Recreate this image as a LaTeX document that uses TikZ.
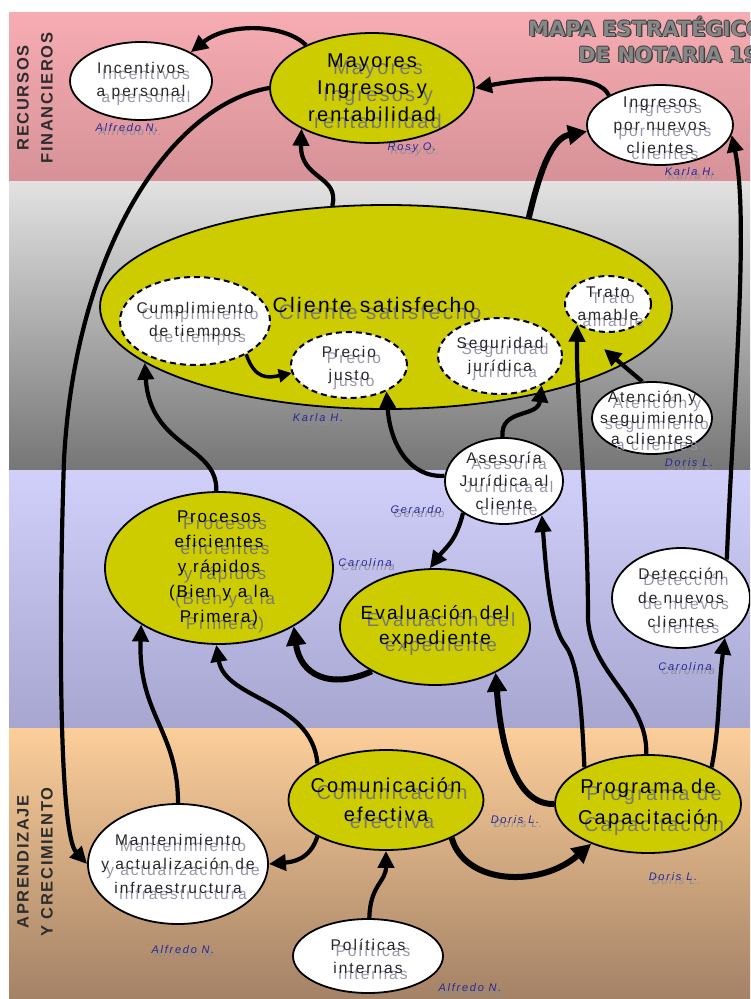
\documentclass[tikz,border=0pt]{standalone}
\usepackage{fontspec}
\setmainfont{Liberation Sans}
\newfontfamily\goalfont[LetterSpace=11]{Liberation Sans}
\newfontfamily\itemfont[LetterSpace=13]{Liberation Sans}
\newfontfamily\ownerfont[LetterSpace=16]{Liberation Sans}
\newfontfamily\bandfont[LetterSpace=10]{Liberation Sans}
\newfontfamily\titlefont{DejaVu Sans}
\usetikzlibrary{arrows.meta,shapes.geometric}

% band colours (top / bottom of each gradient)
\definecolor{pinktop}{RGB}{246,172,178}
\definecolor{pinkbot}{RGB}{214,146,152}
\definecolor{graytop}{RGB}{226,226,226}
\definecolor{graybot}{RGB}{118,118,118}
\definecolor{lavtop}{RGB}{208,208,250}
\definecolor{lavbot}{RGB}{166,166,208}
\definecolor{peachtop}{RGB}{252,206,154}
\definecolor{peachbot}{RGB}{164,130,102}
% bubbles and text
\definecolor{olive}{RGB}{204,204,0}
\definecolor{goalshadow}{RGB}{120,120,112}
\definecolor{itemshadow}{RGB}{150,150,168}
\definecolor{ownerblue}{RGB}{40,40,150}
\definecolor{ownershadow}{RGB}{140,140,150}
\definecolor{titlefill}{RGB}{135,135,135}
\definecolor{titleedge}{RGB}{65,65,65}
\definecolor{bandtext}{RGB}{45,45,45}

\tikzset{
  sz/.style 2 args={minimum width=#1pt, minimum height=#2pt},
  goalbub/.style={ellipse, draw=black, line width=1.8pt, fill=olive, inner sep=0pt},
  itembub/.style={ellipse, draw=black, line width=1.8pt, fill=white, inner sep=0pt},
  subbub/.style={ellipse, draw=black, line width=2pt, dash pattern=on 6pt off 4pt, fill=white, inner sep=0pt},
  g txt/.style={align=center, inner sep=0pt, text=black, font=\goalfont\fontsize{19}{26}\selectfont},
  g sh/.style={xshift=6pt, yshift=-7pt, text=goalshadow},
  i txt/.style={align=center, inner sep=0pt, text=black!85, font=\itemfont\fontsize{15.5}{23}\selectfont},
  i sh/.style={xshift=5pt, yshift=-6pt, text=itemshadow},
  owner txt/.style={inner sep=0pt, text=ownerblue, font=\ownerfont\itshape\fontsize{11}{13}\selectfont},
  owner sh/.style={xshift=3pt, yshift=-4pt, text=ownershadow},
  band txt/.style={align=center, rotate=90, inner sep=0pt, text=bandtext, font=\bandfont\bfseries\fontsize{16.5}{24}\selectfont},
  title txt/.style={anchor=base west, inner sep=0pt, text=titlefill, font=\titlefont\bfseries\fontsize{21}{24}\selectfont},
  link/.style={line width=4.2pt, -{Triangle[length=17pt,width=16pt]}},
  heavy/.style={line width=6pt, -{Triangle[length=19pt,width=19pt]}},
  slim/.style={line width=3.5pt, -{Triangle[length=13pt,width=13pt]}},
}

% bubble: [text options]{shape style}{text kind g/i}{name}{x,y}{size}{text}
\newcommand\bubble[7][]{%
  \node[#2,#6] (#4) at (#5) {};
  \node[#3 txt,#3 sh,#1] (#4-s) at (#4) {#7};
  \node[#3 txt,#1] (#4-t) at (#4) {#7};}
% owner tag with its soft shadow
\newcommand\owner[3]{%
  \node[owner txt,owner sh] (#1-s) at (#2) {#3};
  \node[owner txt] (#1) at (#2) {#3};}
% outlined heading text
\newcommand\outlinetext[3]{%
  \foreach \dx/\dy [count=\k] in {0.9/0,-0.9/0,0/0.9,0/-0.9,1.5/-1.5}
    {\node[title txt, text=titleedge, xshift=\dx pt, yshift=\dy pt] (#1-\k) at (#2) {#3};}
  \node[title txt] (#1) at (#2) {#3};}

\begin{document}
\begin{tikzpicture}[x=1pt, y=-1pt]
\useasboundingbox (0,0) rectangle (750,999);
\fill[white] (0,0) rectangle (750,999);
\clip (0,0) rectangle (750,999);

% perspective bands
\shade[top color=pinktop, bottom color=pinkbot] (9,12) rectangle (750,181);
\shade[top color=graytop, bottom color=graybot] (9,181) rectangle (750,470);
\shade[top color=lavtop, bottom color=lavbot] (9,470) rectangle (750,728);
\shade[top color=peachtop, bottom color=peachbot] (9,728) rectangle (750,999);

% heading
\outlinetext{ttlA}{528,36}{MAPA ESTRATÉGICO}
\outlinetext{ttlB}{578,62}{DE NOTARIA 19}

% band names
\node[band txt] (bandA) at (35,98) {RECURSOS\\FINANCIEROS};
\node[band txt] (bandB) at (35,862) {APRENDIZAJE\\Y CRECIMIENTO};

% financial perspective
\bubble[font=\goalfont\fontsize{20}{27}\selectfont]{goalbub}{g}{may}{372,88}{sz={204}{110}}{Mayores\\Ingresos y\\rentabilidad}
\bubble{itembub}{i}{inc}{141,81}{sz={142}{78}}{Incentivos\\a personal}
\bubble{itembub}{i}{ing}{660,125}{sz={146}{80}}{Ingresos\\por nuevos\\clientes}

% customer perspective
\node[goalbub, sz={572}{204}] (cli) at (386,307) {};
\node[g txt, g sh, font=\goalfont\fontsize{21}{26}\selectfont] (cli-s) at (374,305) {Cliente satisfecho};
\node[g txt, font=\goalfont\fontsize{21}{26}\selectfont] (cli-t) at (374,305) {Cliente satisfecho};
\bubble{subbub}{i}{cum}{195,321}{sz={150}{88}}{Cumplimiento\\de tiempos}
\bubble{subbub}{i}{pre}{349,365}{sz={116}{66}}{Precio\\justo}
\bubble{subbub}{i}{seg}{500,356}{sz={124}{76}}{Seguridad\\jurídica}
\bubble{subbub}{i}{tra}{608,304}{sz={86}{56}}{Trato\\amable}
\bubble[font=\itemfont\fontsize{15.5}{21}\selectfont]{itembub}{i}{ate}{652,418}{sz={120}{72}}{Atención y\\seguimiento\\a clientes}

% internal processes
\bubble{itembub}{i}{ase}{504,481}{sz={118}{86}}{Asesoría\\Jurídica al\\cliente}
\bubble[font=\goalfont\fontsize{17}{25}\selectfont]{goalbub}{g}{pro}{219,568}{sz={228}{152}}{Procesos\\eficientes\\y rápidos\\(Bien y a la\\Primera)}
\bubble[font=\goalfont\fontsize{19}{25}\selectfont]{goalbub}{g}{eva}{435,627}{sz={190}{116}}{Evaluación del\\expediente}
\bubble[font=\itemfont\fontsize{15.5}{24}\selectfont]{itembub}{i}{det}{681,598}{sz={138}{100}}{Detección\\de nuevos\\clientes}

% learning and growth
\bubble[font=\goalfont\fontsize{20}{29}\selectfont]{goalbub}{g}{com}{386,800}{sz={195}{100}}{Comunicación\\efectiva}
\bubble[font=\goalfont\fontsize{20}{31}\selectfont]{goalbub}{g}{prg}{648,804}{sz={186}{98}}{Programa de\\Capacitación}
\bubble[font=\itemfont\fontsize{15.5}{24}\selectfont]{itembub}{i}{man}{178,864}{sz={180}{120}}{Mantenimiento\\y actualización de\\infraestructura}
\bubble{itembub}{i}{pol}{368,956}{sz={150}{74}}{Políticas\\internas}

% owners
\owner{ownA}{127,128}{Alfredo N.}
\owner{ownB}{412,148}{Rosy O.}
\owner{ownC}{690,172}{Karla H.}
\owner{ownD}{318,418}{Karla H.}
\owner{ownE}{689,463}{Doris L.}
\owner{ownF}{416,510}{Gerardo}
\owner{ownG}{365,563}{Carolina}
\owner{ownH}{685,667}{Carolina}
\owner{ownI}{515,820}{Doris L.}
\owner{ownJ}{673,877}{Doris L.}
\owner{ownK}{183,950}{Alfredo N.}
\owner{ownL}{470,988}{Alfredo N.}

% cause and effect links
\coordinate (cliin) at (604,349);
\draw[link] (may.147) .. controls (285,24) and (228,22) .. (inc.30);
\draw[link] (ing.150) .. controls (600,74) and (540,76) .. (may.east);
\draw[link] (cli.118) .. controls (340,175) and (300,180) .. (may.210);
\draw[heavy] (cli.32) .. controls (540,170) and (552,138) .. (ing.185);
\draw[link] (may.west) .. controls (170,105) and (75,250) .. (64,460)
            .. controls (58,640) and (60,835) .. (man.180);
\draw[link] (pro.92) .. controls (218,445) and (150,448) .. (cli.193);
\draw[slim] (cum.327) .. controls (255,380) and (268,378) .. (pre.188);
\draw[link] (ase.175) .. controls (410,478) and (390,445) .. (pre.325);
\draw[link] (ase.92) .. controls (500,408) and (538,418) .. (seg.325);
\draw[link] (prg.92) .. controls (648,700) and (592,675) .. (588,620)
            .. controls (588,500) and (576,400) .. (tra.214);
\draw[link] (prg.150) .. controls (582,720) and (580,665) .. (565,645)
            .. controls (550,625) and (546,570) .. (ase.318);
\draw[heavy] (prg.180) .. controls (520,805) and (502,760) .. (eva.323);
\draw[link] (prg.30) .. controls (720,725) and (718,690) .. (det.318);
\draw[link] (det.40) .. controls (732,420) and (750,220) .. (ing.352);
\draw[link] (ate.105) -- (cliin);
\draw[link] (ase.218) .. controls (456,542) and (445,548) .. (eva.95);
\draw[heavy] (eva.215) .. controls (330,690) and (300,675) .. (pro.322);
\draw[link] (com.152) .. controls (312,700) and (225,700) .. (pro.268);
\draw[link] (man.90) .. controls (178,730) and (138,715) .. (pro.216);
\draw[link] (com.208) .. controls (310,860) and (292,862) .. (man.east);
\draw[heavy] (com.330) .. controls (465,885) and (540,888) .. (prg.215);
\draw[link] (pol.88) .. controls (370,885) and (386,882) .. (com.270);
\end{tikzpicture}
\end{document}
